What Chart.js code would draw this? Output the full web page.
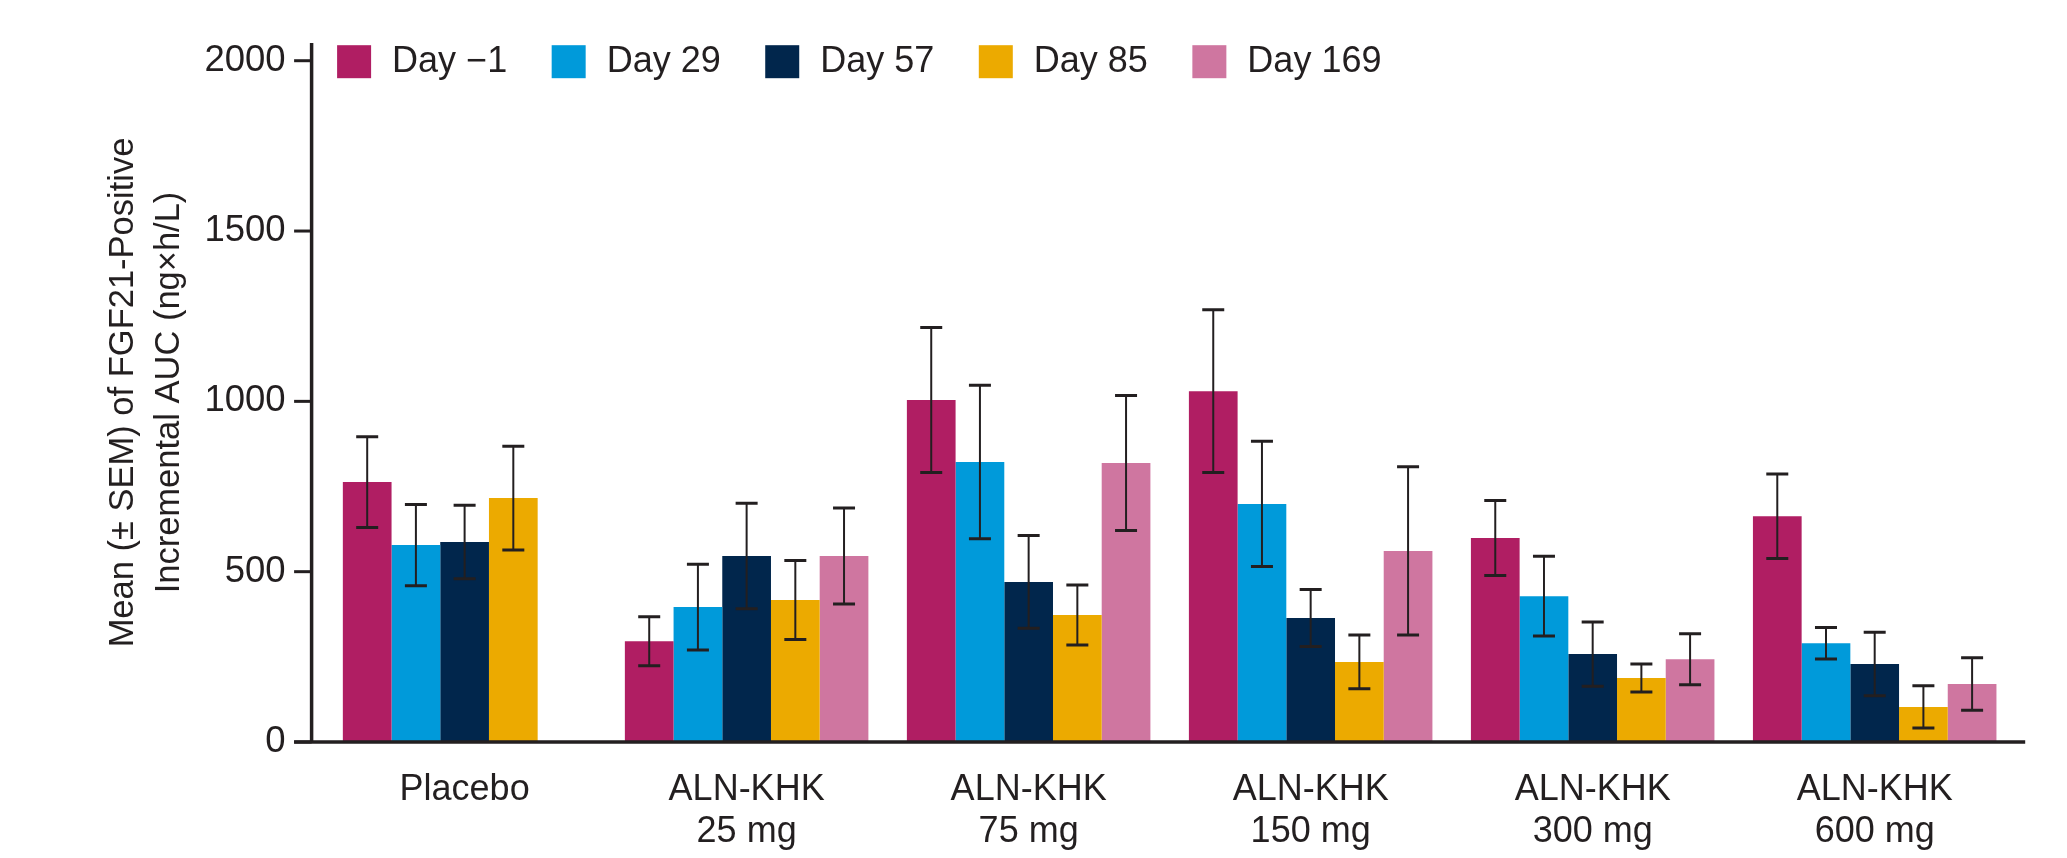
<!DOCTYPE html>
<html>
<head>
<meta charset="utf-8">
<title>FGF21-Positive Incremental AUC</title>
<script src="https://cdn.jsdelivr.net/npm/chart.js@4.4.1/dist/chart.umd.min.js"></script>
<style>
  html, body { margin: 0; padding: 0; background: #fff; }
  #wrap { width: 2067px; height: 858px; }
</style>
</head>
<body>
<div id="wrap"><canvas id="aucChart" width="2067" height="858"></canvas></div>
<script>
// treatment groups on the x axis
const groups = ['Placebo', ['ALN-KHK', '25 mg'], ['ALN-KHK', '75 mg'], ['ALN-KHK', '150 mg'], ['ALN-KHK', '300 mg'], ['ALN-KHK', '600 mg']];
const dayLabels = ['Day \u22121', 'Day 29', 'Day 57', 'Day 85', 'Day 169'];
const dayColors = ['#b01e63', '#009ada', '#01264c', '#ecaa00', '#cf76a0'];

// mean incremental AUC (ng×h/L) and SEM per day
const dayM1  = [763, 296, 1004, 1030, 599, 663];
const semM1  = [133, 72, 213, 239, 110, 124];
const day29  = [578, 396, 822, 699, 428, 290];
const sem29  = [119, 126, 225, 184, 117, 46];
const day57  = [587, 546, 470, 364, 258, 229];
const sem57  = [108, 155, 136, 84, 94, 93];
const day85  = [716, 417, 373, 235, 188, 103];
const sem85  = [152, 116, 88, 79, 41, 62];
const day169 = [null, 546, 819, 561, 243, 170];
const sem169 = [null, 141, 198, 247, 75, 77];

const yTicks = [0, 500, 1000, 1500, 2000];

const ink = '#231f20';
Chart.defaults.font.family = '"Liberation Sans", Arial, sans-serif';
Chart.defaults.color = ink;

const seriesValues = [dayM1, day29, day57, day85, day169];
const seriesSem = [semM1, sem29, sem57, sem85, sem169];

const datasets = dayLabels.map(function(label, i) {
    return {
        label: label,
        data: seriesValues[i],
        sem: seriesSem[i],
        backgroundColor: dayColors[i],
        borderWidth: 0,
        barPercentage: 1,
        categoryPercentage: 0.8635
    };
});

// whiskers: mean ± SEM
const errorBars = {
    id: 'errorBars',
    afterDatasetsDraw(chart) {
        const ctx = chart.ctx;
        const y = chart.scales.y;
        ctx.save();
        ctx.strokeStyle = ink;
        chart.data.datasets.forEach(function(ds, i) {
            const meta = chart.getDatasetMeta(i);
            meta.data.forEach(function(bar, j) {
                const m = ds.data[j];
                const e = ds.sem[j];
                if (m == null || e == null) return;
                const yHi = y.getPixelForValue(m + e);
                const yLo = y.getPixelForValue(m - e);
                ctx.lineWidth = 2;
                ctx.beginPath();
                ctx.moveTo(bar.x, yHi);
                ctx.lineTo(bar.x, yLo);
                ctx.stroke();
                ctx.lineWidth = 3;
                ctx.beginPath();
                ctx.moveTo(bar.x - 11, yHi);
                ctx.lineTo(bar.x + 11, yHi);
                ctx.moveTo(bar.x - 11, yLo);
                ctx.lineTo(bar.x + 11, yLo);
                ctx.stroke();
            });
        });
        ctx.restore();
    }
};

// axis lines sit a little left of the first group, with outward ticks
const axisLines = {
    id: 'axisLines',
    afterDatasetsDraw(chart) {
        const ctx = chart.ctx;
        const area = chart.chartArea;
        const y = chart.scales.y;
        const x0 = area.left - 12;
        ctx.save();
        ctx.strokeStyle = ink;
        ctx.lineWidth = 3.5;
        ctx.beginPath();
        ctx.moveTo(x0, area.top);
        ctx.lineTo(x0, area.bottom);
        ctx.moveTo(x0 - 17.5, area.bottom);
        ctx.lineTo(area.right + 9.5, area.bottom);
        ctx.stroke();
        ctx.lineWidth = 3;
        y.ticks.forEach(function(t) {
            const py = y.getPixelForValue(t.value);
            ctx.beginPath();
            ctx.moveTo(x0 - 17.5, py);
            ctx.lineTo(x0, py);
            ctx.stroke();
        });
        ctx.restore();
    }
};

// legend row drawn inside the plot, next to the top of the y axis
const legendRow = {
    id: 'legendRow',
    afterDraw(chart) {
        const ctx = chart.ctx;
        const area = chart.chartArea;
        ctx.save();
        ctx.font = '36px "Liberation Sans", Arial, sans-serif';
        ctx.textBaseline = 'middle';
        ctx.textAlign = 'left';
        let x = area.left + 13.5;
        const cy = area.top + 18.7;
        chart.data.datasets.forEach(function(ds) {
            ctx.fillStyle = ds.backgroundColor;
            ctx.fillRect(x, cy - 16.5, 34, 33);
            ctx.fillStyle = ink;
            ctx.fillText(ds.label, x + 55, cy);
            x += 55 + ctx.measureText(ds.label).width + 44.5;
        });
        ctx.restore();
    }
};

const ctx = document.getElementById('aucChart');
const aucChart = new Chart(ctx, {
    type: 'bar',
    data: {
        labels: groups,
        datasets: datasets
    },
    options: {
        responsive: false,
        animation: false,
        layout: {
            padding: { top: 43, right: 51.3, bottom: 0, left: 0 }
        },
        plugins: {
            legend: { display: false },
            tooltip: { enabled: false }
        },
        scales: {
            x: {
                grid: { display: false },
                border: { display: false },
                ticks: {
                    font: { size: 36, lineHeight: 1.167 },
                    padding: 19.5,
                    maxRotation: 0,
                    autoSkip: false,
                    color: ink
                },
                afterFit: function(scale) { scale.height = 116; }
            },
            y: {
                min: 0,
                max: 2052,
                // tick marks are drawn by axisLines; tickLength only spaces the labels
                grid: { display: false, drawTicks: true, tickLength: 38 },
                border: { display: false },
                ticks: {
                    stepSize: 500,
                    includeBounds: false,
                    font: { size: 36.5 },
                    padding: 0,
                    color: ink,
                    callback: function(value) { return String(value); }
                },
                afterBuildTicks: function(scale) {
                    scale.ticks = yTicks.map(function(v) { return { value: v }; });
                },
                title: {
                    display: true,
                    text: ['Mean (\u00b1 SEM) of FGF21-Positive', 'Incremental AUC (ng\u00d7h/L)'],
                    font: { size: 34.5, lineHeight: 1.33 },
                    padding: { top: 100.4, bottom: 0 },
                    color: ink
                },
                afterFit: function(scale) { scale.width = 323.6; }
            }
        }
    },
    plugins: [errorBars, axisLines, legendRow]
});
</script>
</body>
</html>
